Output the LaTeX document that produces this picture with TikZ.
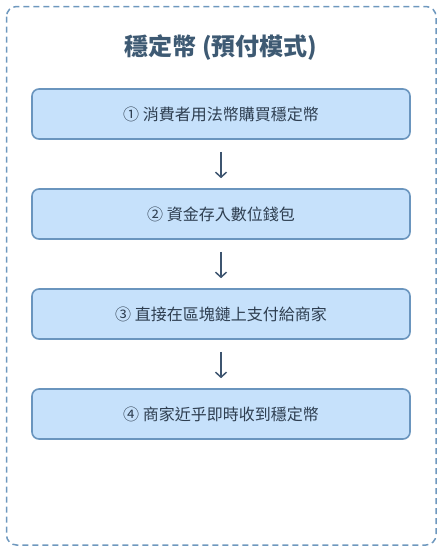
\documentclass[tikz,border=0pt]{standalone}
\usepackage{fontspec}
\setmainfont{Noto Sans CJK TC}
\usetikzlibrary{arrows.meta}
\definecolor{framec}{HTML}{6E98BE}
\definecolor{boxfill}{HTML}{C6E1FB}
\definecolor{boxline}{HTML}{6A95BE}
\definecolor{titlec}{HTML}{3E5A73}
\definecolor{textc}{HTML}{2E3E50}
\definecolor{arrowc}{HTML}{3E5570}
\tikzset{
  stepbox/.style={draw=boxline, fill=boxfill, line width=1.6pt, rounded corners=7pt,
    minimum width=378pt, minimum height=50pt, inner sep=0pt,
    font=\fontsize{16pt}{19pt}\selectfont, text=textc},
  flowarrow/.style={draw=arrowc, line width=1.5pt, -{Straight Barb[length=5pt,width=11pt,line width=1.5pt]},
    shorten <=12pt, shorten >=10pt}
}
\begin{document}
\begin{tikzpicture}[x=1pt,y=-1pt]
\useasboundingbox (0,0) rectangle (442,552);
\draw[framec, line width=1.5pt, dash pattern=on 6pt off 4pt, rounded corners=10pt] (6.5,6.5) rectangle (436,545);
\node[font=\fontsize{24pt}{28pt}\selectfont\bfseries, text=titlec] (title) at (221,48) {穩定幣 (預付模式)};
\node[stepbox] (s1) at (221,114) {① 消費者用法幣購買穩定幣};
\node[stepbox] (s2) at (221,214) {② 資金存入數位錢包};
\node[stepbox] (s3) at (221,314) {③ 直接在區塊鏈上支付給商家};
\node[stepbox] (s4) at (221,414) {④ 商家近乎即時收到穩定幣};
\draw[flowarrow] (s1.south) -- (s2.north);
\draw[flowarrow] (s2.south) -- (s3.north);
\draw[flowarrow] (s3.south) -- (s4.north);
\end{tikzpicture}
\end{document}
